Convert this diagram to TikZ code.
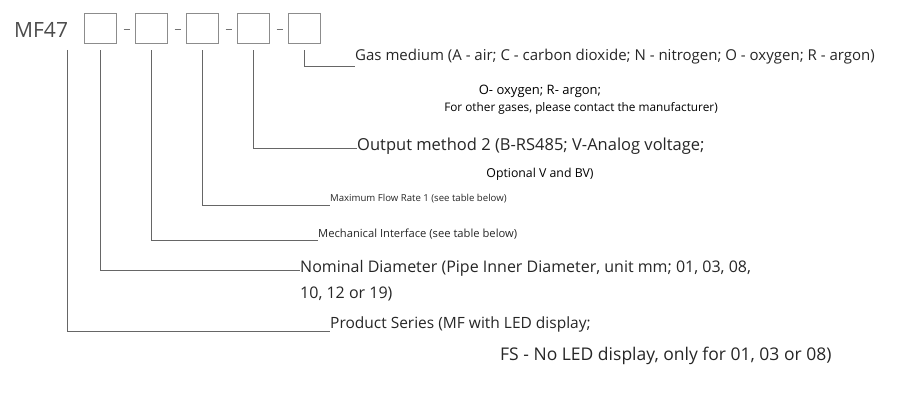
\documentclass[tikz,border=0pt]{standalone}
\usepackage{fontspec}
\setmainfont{Open Sans}
\usetikzlibrary{positioning,calc}
\tikzset{
  box/.style={draw=black!45, line width=1pt, minimum width=32pt, minimum height=30pt, inner sep=0pt},
  lead/.style={draw=black!60, line width=0.9pt},
  txt/.style={anchor=west, inner sep=0pt, text=black!85},
}
\newcommand{\fs}[1]{\fontsize{#1}{#1}\selectfont}
\begin{document}
\begin{tikzpicture}[x=1pt,y=-1pt]
  \useasboundingbox (0,0) rectangle (923,419);
  % code boxes
  \node[anchor=west, inner sep=0pt, font=\fs{21}, text=black!70] (mf) at (14,30) {MF47};
  \node[box] (b1) at (100.5,29) {};
  \node[box] (b2) at (151.5,29) {};
  \node[box] (b3) at (202.5,29) {};
  \node[box] (b4) at (253.5,29) {};
  \node[box] (b5) at (304.5,29) {};
  \foreach \x in {126.5,177.5,228.5,279.5}
    \draw[black!55, line width=1pt] (\x-3,30) -- (\x+3,30);
  % labels
  \node[txt, font=\fs{15}] (gas) at (355,57) {Gas medium (A - air; C - carbon dioxide; N - nitrogen; O - oxygen; R - argon)};
  \node[font=\fs{13}, inner sep=0pt] (gas2) at (540,91) {O- oxygen; R- argon;};
  \node[font=\fs{11.8}, inner sep=0pt] (gas3) at (581,108) {For other gases, please contact the manufacturer)};
  \node[txt, font=\fs{16.5}] (out) at (357,146) {Output method 2 (B-RS485; V-Analog voltage;};
  \node[font=\fs{12.3}, inner sep=0pt] (out2) at (540,174) {Optional V and BV)};
  \node[txt, font=\fs{9.6}] (flow) at (330,199) {Maximum Flow Rate 1 (see table below)};
  \node[txt, font=\fs{11.2}] (mech) at (318,234) {Mechanical Interface (see table below)};
  \node[txt, font=\fs{16}] (dia) at (300,268) {Nominal Diameter (Pipe Inner Diameter, unit mm; 01, 03, 08,};
  \node[txt, font=\fs{16}] (dia2) at (300,294) {10, 12 or 19)};
  \node[txt, font=\fs{15.5}] (ser) at (330,324) {Product Series (MF with LED display;};
  \node[txt, font=\fs{17.5}] (ser2) at (500,356) {FS - No LED display, only for 01, 03 or 08)};
  % leaders
  \coordinate (mfleg) at ($(mf.west)+(53,20)$);
  \draw[lead] (b5.south) ++(0,6) |- (gas.west |- 0,66);
  \draw[lead] (b4.south) ++(0,6) |- (out.west |- 0,148);
  \draw[lead] (b3.south) ++(0,6) |- (flow.west |- 0,205);
  \draw[lead] (b2.south) ++(0,6) |- (mech.west |- 0,240);
  \draw[lead] (b1.south) ++(0,6) |- (dia.west |- 0,270);
  \draw[lead] (mfleg) |- (ser.west |- 0,331);
\end{tikzpicture}
\end{document}
